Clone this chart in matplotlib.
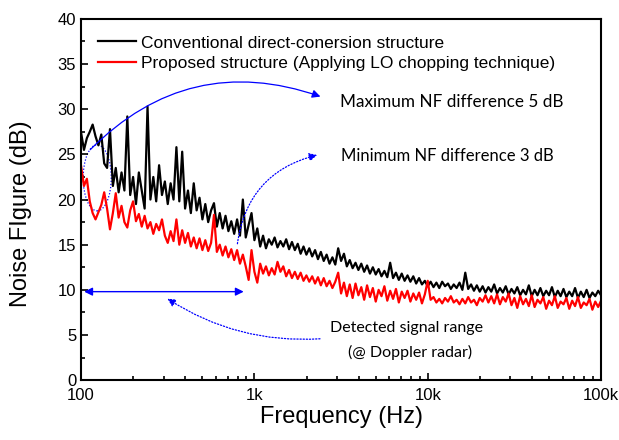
import numpy as np
import matplotlib
matplotlib.use('Agg')
import matplotlib.pyplot as plt
from matplotlib.patches import Ellipse
from matplotlib.ticker import FixedLocator, FixedFormatter, MultipleLocator, NullFormatter

plt.rcParams['font.family'] = ['Liberation Sans', 'DejaVu Sans']

# sampled frequency grid, 60 points per decade (100 Hz .. 100 kHz)
freq = np.logspace(2, 5, 181)

# conventional direct-conversion structure (dB)
nf_conv = [
    27.4, 25.5, 26.8, 27.5, 28.3, 27.0, 26.0, 27.2, 24.0, 23.5,
    27.8, 21.5, 23.5, 20.8, 23.0, 21.0, 29.2, 20.5, 22.5, 19.5,
    23.0, 21.0, 19.0, 30.3, 20.0, 22.5, 19.8, 23.8, 20.5, 22.0,
    19.5, 21.8, 20.0, 25.8, 19.8, 25.3, 19.0, 21.0, 18.5, 21.8,
    18.8, 20.2, 17.8, 19.5, 17.5, 18.8, 19.6, 17.0, 18.5, 16.8,
    18.2, 16.5, 17.6, 16.2, 17.8, 16.0, 20.0, 15.8, 17.2, 18.5,
    15.5,
    16.8, 14.8, 16.0, 14.6, 15.6, 15.0, 15.8, 14.7, 15.4, 14.8,
    15.6, 14.5, 15.3, 14.4, 15.1, 14.0, 14.8, 13.9, 14.6, 13.7,
    14.4, 13.4, 14.2, 13.2, 13.9, 12.9, 13.6, 12.8, 14.6, 13.2,
    14.0, 12.6, 13.3, 12.4, 13.0, 12.2, 12.9, 12.0, 12.7, 11.8,
    12.5, 11.7, 12.3, 11.5, 12.1, 11.4, 13.0, 11.3, 11.9, 11.1,
    11.8, 11.0, 11.6, 10.9, 11.5, 10.7, 11.3, 10.6, 11.0, 10.4,
    10.9, 10.3, 10.8, 10.2, 10.9, 10.4, 10.7, 10.1, 10.6, 10.2,
    10.8, 10.0, 11.9, 10.1, 10.6, 9.9, 10.5, 9.8, 10.4, 9.7,
    10.3, 9.8, 10.6, 9.6, 10.2, 9.7, 10.4, 9.5, 10.1, 9.6,
    10.3, 9.4, 10.0, 9.5, 10.5, 9.3, 10.0, 9.4, 10.2, 9.3,
    9.9, 9.4, 10.3, 9.2, 9.9, 9.3, 10.1, 9.2, 9.8, 9.3,
    10.2, 9.1, 9.8, 9.2, 10.0, 9.1, 9.7, 9.3, 9.9, 9.4,
]

# proposed structure with LO chopping (dB)
nf_prop = [
    23.7, 21.5, 22.3, 19.8, 18.5, 17.8, 18.6, 19.4, 20.8, 19.0,
    16.7, 18.5, 20.7, 18.0, 19.3, 17.5, 16.9, 18.8, 19.8, 17.6,
    18.4, 17.0, 18.2, 16.8, 17.5, 16.2, 17.3, 16.6, 17.8, 16.0,
    15.2, 16.5, 15.4, 17.8, 15.0, 16.6, 15.2, 16.3, 14.8, 15.8,
    14.6, 15.7, 14.4, 15.5, 14.3, 15.2, 18.3, 14.2, 15.0, 13.8,
    14.8, 13.6, 14.5, 13.3, 14.4, 12.9, 13.9, 12.6, 11.1, 14.4,
    12.0,
    10.8, 12.9, 11.8, 12.6, 11.6, 12.4, 11.7, 13.1, 12.0, 12.6,
    11.5, 12.2, 11.3, 12.0, 11.2, 11.9, 11.0, 11.6, 10.9, 11.5,
    10.7, 11.4, 10.5, 11.3, 10.4, 11.0, 10.2, 10.9, 11.9, 9.6,
    10.8, 9.3, 10.6, 9.1, 10.7, 9.4, 10.3, 8.9, 10.5, 9.2,
    10.2, 8.7, 10.0, 9.3, 10.4, 8.8, 9.9, 9.0, 10.1, 8.6,
    9.8, 9.1, 9.9, 8.7, 9.6, 8.9, 9.7, 8.5, 9.5, 11.0,
    8.9, 9.2, 8.6, 9.0, 8.5, 9.1, 8.7, 9.3, 8.6, 8.9,
    8.4, 9.0, 8.5, 9.2, 8.6, 8.9, 8.3, 9.1, 8.7, 9.4,
    8.6, 9.3, 8.5, 9.5, 8.4, 9.2, 8.7, 9.6, 8.3, 9.1,
    8.0, 9.3, 8.4, 9.0, 8.2, 9.4, 8.1, 8.9, 8.5, 9.2,
    7.9, 8.8, 8.3, 9.3, 8.0, 8.7, 8.4, 9.1, 7.9, 8.8,
    8.2, 9.2, 8.0, 8.6, 8.3, 9.0, 7.8, 8.7, 8.1, 8.8,
]

x_ticks = [100, 1000, 10000, 100000]
x_tick_labels = ['100', '1k', '10k', '100k']
labels = ['Conventional direct-conersion structure',
          'Proposed structure (Applying LO chopping technique)']

fig = plt.figure(figsize=(6.19, 4.4), dpi=100)
ax = fig.add_axes([0.131, 0.136, 0.84, 0.821])

ax.plot(freq, nf_conv, color='black', lw=1.6, label=labels[0])
ax.plot(freq, nf_prop, color='red', lw=1.6, label=labels[1])

ax.set_xscale('log')
ax.set_xlim(100, 100000)
ax.set_ylim(0, 40)
ax.xaxis.set_major_locator(FixedLocator(x_ticks))
ax.xaxis.set_major_formatter(FixedFormatter(x_tick_labels))
ax.xaxis.set_minor_formatter(NullFormatter())
ax.yaxis.set_major_locator(MultipleLocator(5))
ax.yaxis.set_minor_locator(MultipleLocator(2.5))
ax.tick_params(which='both', direction='in', top=False, right=False,
               labelsize=12, width=1.2)
ax.tick_params(which='major', length=5)
ax.tick_params(axis='x', pad=6)
ax.tick_params(which='minor', length=3)
for s in ax.spines.values():
    s.set_linewidth(1.5)

ax.set_xlabel('Frequency (Hz)', fontsize=17, labelpad=2)
ax.set_ylabel('Noise FIgure (dB)', fontsize=17)
ax.yaxis.set_label_coords(-0.094, 0.46)

ax.legend(loc='upper left', bbox_to_anchor=(0.0, 1.0), frameon=False,
          fontsize=12.5, handlelength=2.2, handletextpad=0.3,
          labelspacing=0.32, borderaxespad=0.55)

blue = '#0000ff'
afont = dict(family=['Lato', 'DejaVu Sans'])

# maximum difference arrow
ax.annotate('', xy=(2490, 31.3), xytext=(110, 25.3),
            arrowprops=dict(arrowstyle='-|>', color=blue, lw=0.9,
                            mutation_scale=12,
                            connectionstyle='arc3,rad=-0.32'))
ax.text(0.497, 0.77, 'Maximum NF difference 5 dB', transform=ax.transAxes,
        va='center', fontsize=12.3, **afont)
ell = Ellipse((0.031, 0.56), 0.054, 0.183, transform=ax.transAxes,
              fill=False, ec=blue, lw=0.9, ls=(0, (1, 1.5)))
ax.add_patch(ell)

# minimum difference arrow
ax.annotate('', xy=(2390, 25.0), xytext=(794, 14.8),
            arrowprops=dict(arrowstyle='-|>', color=blue, lw=0.9,
                            mutation_scale=12, linestyle=(0, (1, 1.5)),
                            connectionstyle='arc3,rad=-0.35'))
ax.text(0.499, 0.621, 'Minimum NF difference 3 dB', transform=ax.transAxes,
        va='center', fontsize=12.0, **afont)

# detected signal range
ax.annotate('', xy=(900, 9.8), xytext=(100.5, 9.8),
            arrowprops=dict(arrowstyle='<|-|>', color=blue, lw=1.0,
                            mutation_scale=12))
ax.annotate('', xy=(305, 9.2), xytext=(2480, 4.6),
            arrowprops=dict(arrowstyle='-|>', color=blue, lw=0.9,
                            mutation_scale=12, linestyle=(0, (1, 1.5)),
                            connectionstyle='arc3,rad=-0.17'))
ax.text(0.625, 0.144, 'Detected signal range', transform=ax.transAxes,
        ha='center', va='center', fontsize=11.5, **afont)
ax.text(0.632, 0.078, '(@ Doppler radar)', transform=ax.transAxes,
        ha='center', va='center', fontsize=11.5, **afont)

fig.savefig('out.png', dpi=100)
